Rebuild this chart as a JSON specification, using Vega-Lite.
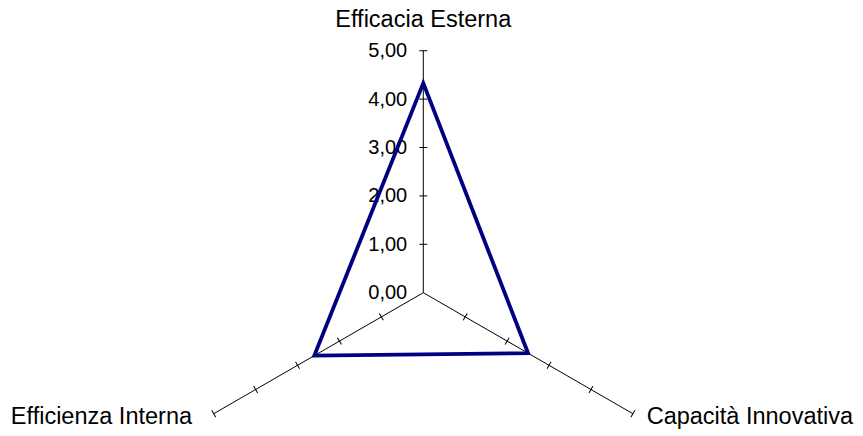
{
  "$schema": "https://vega.github.io/schema/vega-lite/v6.json",
  "width": 863,
  "height": 436,
  "padding": 0,
  "autosize": {"type": "none"},
  "config": {"view": {"stroke": null}, "font": "Liberation Sans"},
  "resolve": {"axis": {"x": "independent", "y": "independent"}},
  "datasets": {
    "scores": [
      {"axis": "Efficacia Esterna", "order": 0, "value": 4.33},
      {"axis": "Capacità Innovativa", "order": 1, "value": 2.5},
      {"axis": "Efficienza Interna", "order": 2, "value": 2.6}
    ],
    "axes": [
      {"axis": "Efficacia Esterna", "order": 0, "max": 5, "ticks": [1, 2, 3, 4, 5]},
      {"axis": "Capacità Innovativa", "order": 1, "max": 5, "ticks": [1, 2, 3, 4, 5]},
      {"axis": "Efficienza Interna", "order": 2, "max": 5, "ticks": [1, 2, 3, 4, 5]}
    ]
  },
  "layer": [
    {
      "data": {"name": "axes"},
      "transform": [
        {"calculate": "datum.order * 2 * PI / 3", "as": "a"},
        {"calculate": "0", "as": "cx"},
        {"calculate": "0", "as": "cy"},
        {"calculate": "datum.max * sin(datum.a)", "as": "ex"},
        {"calculate": "datum.max * cos(datum.a)", "as": "ey"}
      ],
      "mark": {"type": "rule", "color": "#000000", "strokeWidth": 1},
      "encoding": {
        "x": {"field": "cx", "type": "quantitative", "scale": {"domain": [-8.746, 9.085], "nice": false, "zero": false}, "axis": null},
        "x2": {"field": "ex"},
        "y": {"field": "cy", "type": "quantitative", "scale": {"domain": [-2.961, 6.048], "nice": false, "zero": false},
          "axis": {"orient": "left", "offset": -423.3, "values": [0, 1, 2, 3, 4, 5], "domain": false, "ticks": false, "tickSize": 0, "grid": false, "title": null,
            "labelExpr": "replace(format(datum.value, '.2f'), '.', ',')", "labelFontSize": 20, "labelColor": "#000000", "labelFont": "Liberation Sans", "labelPadding": 16.6, "labelOverlap": false}},
        "y2": {"field": "ey"}
      }
    },
    {
      "data": {"name": "axes"},
      "transform": [
        {"flatten": ["ticks"]},
        {"calculate": "datum.order * 2 * PI / 3", "as": "a"},
        {"calculate": "datum.ticks * sin(datum.a)", "as": "tx"},
        {"calculate": "datum.ticks * cos(datum.a)", "as": "ty"},
        {"calculate": "datum.order * 120", "as": "rot"}
      ],
      "mark": {"type": "point", "shape": "stroke", "size": 64, "stroke": "#000000", "strokeWidth": 1, "opacity": 1},
      "encoding": {
        "x": {"field": "tx", "type": "quantitative", "scale": {"domain": [-8.746, 9.085], "nice": false, "zero": false}, "axis": null},
        "y": {"field": "ty", "type": "quantitative", "scale": {"domain": [-2.961, 6.048], "nice": false, "zero": false}, "axis": null},
        "angle": {"field": "rot", "type": "quantitative", "scale": {"domain": [0, 360], "range": [0, 360]}}
      }
    },
    {
      "data": {"name": "scores"},
      "transform": [
        {"calculate": "datum.order * 2 * PI / 3", "as": "a"},
        {"calculate": "datum.value * sin(datum.a)", "as": "px"},
        {"calculate": "datum.value * cos(datum.a)", "as": "py"}
      ],
      "mark": {"type": "line", "interpolate": "linear-closed", "color": "#000080", "strokeWidth": 3.8, "strokeJoin": "miter"},
      "encoding": {
        "x": {"field": "px", "type": "quantitative", "scale": {"domain": [-8.746, 9.085], "nice": false, "zero": false}, "axis": null},
        "y": {"field": "py", "type": "quantitative", "scale": {"domain": [-2.961, 6.048], "nice": false, "zero": false}, "axis": null},
        "order": {"field": "order", "type": "quantitative"}
      }
    },
    {
      "data": {"name": "axes"},
      "transform": [
        {"filter": "datum.order == 0"},
        {"calculate": "datum.order * 2 * PI / 3", "as": "a"},
        {"calculate": "datum.max * sin(datum.a)", "as": "ex"},
        {"calculate": "datum.max * cos(datum.a)", "as": "ey"}
      ],
      "mark": {"type": "text", "align": "center", "baseline": "alphabetic", "dy": -24, "fontSize": 23.5, "color": "#000000"},
      "encoding": {
        "x": {"field": "ex", "type": "quantitative", "scale": {"domain": [-8.746, 9.085], "nice": false, "zero": false}, "axis": null},
        "y": {"field": "ey", "type": "quantitative", "scale": {"domain": [-2.961, 6.048], "nice": false, "zero": false}, "axis": null},
        "text": {"field": "axis", "type": "nominal"}
      }
    },
    {
      "data": {"name": "axes"},
      "transform": [
        {"filter": "datum.order == 1"},
        {"calculate": "datum.order * 2 * PI / 3", "as": "a"},
        {"calculate": "datum.max * sin(datum.a)", "as": "ex"},
        {"calculate": "datum.max * cos(datum.a)", "as": "ey"}
      ],
      "mark": {"type": "text", "align": "left", "baseline": "alphabetic", "dx": 13.8, "dy": 10.3, "fontSize": 23.5, "color": "#000000"},
      "encoding": {
        "x": {"field": "ex", "type": "quantitative", "scale": {"domain": [-8.746, 9.085], "nice": false, "zero": false}, "axis": null},
        "y": {"field": "ey", "type": "quantitative", "scale": {"domain": [-2.961, 6.048], "nice": false, "zero": false}, "axis": null},
        "text": {"field": "axis", "type": "nominal"}
      }
    },
    {
      "data": {"name": "axes"},
      "transform": [
        {"filter": "datum.order == 2"},
        {"calculate": "datum.order * 2 * PI / 3", "as": "a"},
        {"calculate": "datum.max * sin(datum.a)", "as": "ex"},
        {"calculate": "datum.max * cos(datum.a)", "as": "ey"}
      ],
      "mark": {"type": "text", "align": "right", "baseline": "alphabetic", "dx": -21.7, "dy": 10.3, "fontSize": 23.5, "color": "#000000"},
      "encoding": {
        "x": {"field": "ex", "type": "quantitative", "scale": {"domain": [-8.746, 9.085], "nice": false, "zero": false}, "axis": null},
        "y": {"field": "ey", "type": "quantitative", "scale": {"domain": [-2.961, 6.048], "nice": false, "zero": false}, "axis": null},
        "text": {"field": "axis", "type": "nominal"}
      }
    }
  ]
}
